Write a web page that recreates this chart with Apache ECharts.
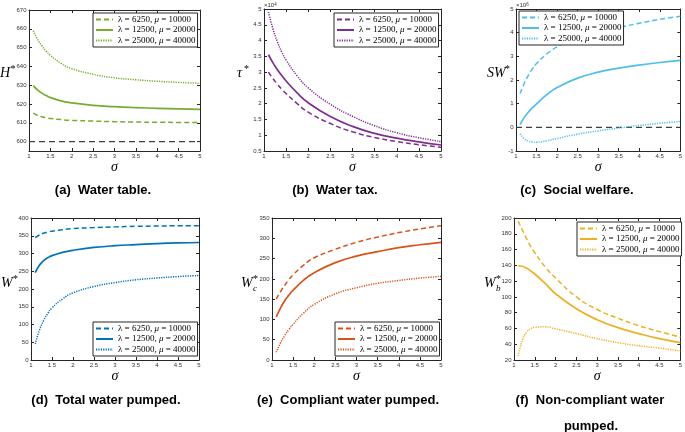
<!DOCTYPE html>
<html><head><meta charset="utf-8">
<script src="https://cdn.jsdelivr.net/npm/echarts@6/dist/echarts.min.js"></script>
<style>html,body{margin:0;padding:0;background:#fff}#c{width:685px;height:432px}</style>
</head><body><div id="c"></div>
<script>
// ---------- DATA ----------
const sigma = [1.1, 1.2, 1.3, 1.4, 1.5, 1.75, 2, 2.5, 3, 3.5, 4, 4.5, 5];
const legendLabels = ['λ = 6250, μ = 10000', 'λ = 12500, μ = 20000', 'λ = 25000, μ = 40000'];
const xTickLabels = [1, 1.5, 2, 2.5, 3, 3.5, 4, 4.5, 5];

// (a) Water table H*
const H_low  = [615.2, 614.0, 613.2, 612.7, 612.3, 611.7, 611.3, 610.9, 610.6, 610.4, 610.3, 610.2, 610.1];
const H_mid  = [629.8, 627.5, 625.8, 624.5, 623.4, 621.7, 620.6, 619.3, 618.6, 618.1, 617.7, 617.4, 617.1];
const H_high = [659.0, 654.5, 651.0, 648.2, 645.9, 641.6, 638.8, 635.8, 633.9, 632.9, 632.1, 631.5, 631.0];
const H_ref = 600;
const H_ticks = [600, 610, 620, 630, 640, 650, 660, 670];

// (b) Water tax tau* (x 10^4)
const tau_low  = [3.00, 2.80, 2.62, 2.46, 2.32, 2.00, 1.73, 1.37, 1.11, 0.93, 0.80, 0.70, 0.62];
const tau_mid  = [3.55, 3.30, 3.08, 2.89, 2.72, 2.34, 2.03, 1.59, 1.28, 1.06, 0.91, 0.79, 0.69];
const tau_high = [4.90, 4.38, 3.97, 3.64, 3.38, 2.88, 2.50, 1.98, 1.60, 1.30, 1.08, 0.92, 0.80];

// (c) Social welfare SW* (x 10^6)
const SW_low  = [1.43, 1.85, 2.20, 2.47, 2.70, 3.10, 3.40, 3.77, 4.01, 4.21, 4.40, 4.56, 4.69];
const SW_mid  = [0.12, 0.41, 0.64, 0.83, 0.99, 1.38, 1.68, 2.08, 2.33, 2.50, 2.63, 2.74, 2.83];
const SW_high = [-0.27, -0.48, -0.58, -0.62, -0.63, -0.57, -0.47, -0.29, -0.15, -0.03, 0.08, 0.17, 0.25];
const SW_ref = 0;

// (d) Total water pumped W*
const W_low  = [345, 352, 357, 360, 363, 367, 370, 373, 375, 376.5, 377.5, 378, 378.5];
const W_mid  = [246, 267, 280, 288, 294, 303, 309, 317, 322, 325, 328, 330, 331];
const W_high = [45, 84, 111, 131, 147, 172, 189, 207, 218, 226, 231, 235, 238];

// (e) Compliant water pumped Wc*
const Wc_low  = [150, 168, 184, 198, 210, 234, 252, 273, 290, 303, 314, 323, 331];
const Wc_mid  = [106, 128, 146, 160, 172, 197, 215, 240, 256, 267, 277, 284, 290];
const Wc_high = [19, 42, 60, 75, 88, 116, 137, 163, 178, 189, 196, 202, 206];

// (f) Non-compliant water pumped Wb*
const Wb_low  = [196, 185, 174, 164, 156, 138, 124, 100, 84, 73, 63.5, 56, 49];
const Wb_mid  = [139.5, 138.8, 136.5, 133, 129, 117, 104, 85, 71, 61, 53.5, 47, 42];
const Wb_high = [25, 45, 55, 59.5, 61.5, 62, 59.5, 53.5, 47, 42, 38, 35, 31.5];

// ---------- LAYOUT / STYLE ----------
const panels = [
  { key:'a', grid:{left:29, top:10, width:171, height:141}, color:'#77AC30',
    y:{min:595, max:670, interval:5, custom:H_ticks}, data:[H_low, H_mid, H_high], ref:H_ref, legend:{left:93, top:13} },
  { key:'b', grid:{left:264, top:9, width:177, height:142}, color:'#7E2F8E',
    y:{min:0.5, max:5, interval:0.5}, data:[tau_low, tau_mid, tau_high], legend:{left:334, top:13} },
  { key:'c', grid:{left:516, top:9, width:168, height:142}, color:'#4DBEEE',
    y:{min:-1, max:5, interval:1}, data:[SW_low, SW_mid, SW_high], ref:SW_ref, legend:{left:519, top:11} },
  { key:'d', grid:{left:31, top:218, width:168, height:142}, color:'#0072BD',
    y:{min:0, max:400, interval:50}, data:[W_low, W_mid, W_high], legend:{left:93, top:322} },
  { key:'e', grid:{left:272, top:218, width:169, height:142}, color:'#D95319',
    y:{min:0, max:350, interval:50}, data:[Wc_low, Wc_mid, Wc_high], legend:{left:335, top:322} },
  { key:'f', grid:{left:514, top:218, width:170, height:142}, color:'#EDB120',
    y:{min:20, max:200, interval:20}, data:[Wb_low, Wb_mid, Wb_high], legend:{left:577, top:222} }
];
const lineTypes = [[5, 3], 'solid', [1.2, 1.2]];
const lineWidths = [1.5, 1.7, 1.5];
const axisColor = '#262626';
const tickFont = {fontSize:6, color:'#333', fontFamily:'Liberation Sans'};

const grids = [], xAxes = [], yAxes = [], series = [], legends = [];
panels.forEach((p, i) => {
  grids.push(Object.assign({show:false}, p.grid));
  const xBase = {gridIndex:i, type:'value', min:1, max:5, interval:0.5,
    axisLine:{show:true, onZero:false, lineStyle:{color:axisColor, width:1}},
    axisTick:{show:true, inside:true, length:3, lineStyle:{color:axisColor}},
    splitLine:{show:false}};
  xAxes.push(Object.assign({}, xBase, {position:'bottom',
    axisLabel:Object.assign({margin:2.5}, tickFont),
    name:'σ', nameLocation:'middle', nameGap:5,
    nameTextStyle:{fontFamily:'Liberation Serif', fontStyle:'italic', fontSize:14, color:'#000'}}));
  xAxes.push(Object.assign({}, xBase, {position:'top', axisLabel:{show:false}}));
  const yBase = {gridIndex:i, type:'value', min:p.y.min, max:p.y.max, interval:p.y.interval,
    axisLine:{show:true, onZero:false, lineStyle:{color:axisColor, width:1}},
    axisTick:{show:true, inside:true, length:3, lineStyle:{color:axisColor}},
    splitLine:{show:false}};
  if (p.y.custom) yBase.axisTick.customValues = p.y.custom;
  const yl = Object.assign({margin:2.5}, tickFont);
  if (p.y.custom) yl.customValues = p.y.custom;
  yAxes.push(Object.assign({}, yBase, {position:'left', axisLabel:yl}));
  yAxes.push(Object.assign({}, yBase, {position:'right', axisLabel:{show:false}}));
  const names = [];
  p.data.forEach((arr, k) => {
    const nm = p.key + k;
    names.push(nm);
    series.push({type:'line', name:nm, xAxisIndex:2*i, yAxisIndex:2*i,
      data: sigma.map((s, j) => [s, arr[j]]), showSymbol:false, symbol:'none',
      smooth:0.5, clip:true,
      lineStyle:{color:p.color, width:lineWidths[k], type:lineTypes[k]}, itemStyle:{color:p.color}, z:3});
  });
  if (p.ref !== undefined) {
    series.push({type:'line', name:p.key+'ref', xAxisIndex:2*i, yAxisIndex:2*i,
      data:[[1, p.ref], [5, p.ref]], showSymbol:false, symbol:'none',
      lineStyle:{color:'#404040', width:1.2, type:[6, 4]}, z:2});
  }
  legends.push({left:p.legend.left, top:p.legend.top, orient:'vertical', data:names,
    selectedMode:false, itemWidth:17, itemHeight:8, itemGap:1.5, padding:[2, 2, 2, 2],
    borderColor:'#262626', borderWidth:1, backgroundColor:'#fff',
    itemStyle:{opacity:0},
    textStyle:{fontFamily:'Liberation Serif', fontSize:9, color:'#000',
      rich:{t:{fontFamily:'Liberation Serif', fontSize:9, color:'#000'},
            i:{fontFamily:'Liberation Serif', fontSize:9, fontStyle:'italic', color:'#000'}}},
    formatter: nm => {
      const lab = legendLabels[+nm.slice(1)];
      const parts = lab.split('μ');
      return '{t|' + parts[0] + '}{i|μ}{t|' + parts[1] + '}';
    }});
});

// text elements: captions, axis names, exponents
const cap = (x, y, t) => ({type:'text', x, y, style:{text:t, fontFamily:'Liberation Sans', fontWeight:'bold', fontSize:13, fill:'#000', align:'center', verticalAlign:'middle'}});
const nm = (x, y, t) => ({type:'text', x, y, style:{text:t, fontFamily:'Liberation Serif', fontStyle:'italic', fontSize:14, fill:'#000', align:'left', verticalAlign:'middle'}});
const sup = (x, y, t) => ({type:'text', x, y, style:{text:t, fontFamily:'Liberation Serif', fontSize:10, fill:'#000', align:'left', verticalAlign:'middle'}});
const sub = (x, y, t) => ({type:'text', x, y, style:{text:t, fontFamily:'Liberation Serif', fontStyle:'italic', fontSize:9, fill:'#000', align:'left', verticalAlign:'middle'}});
const expo = (x, y, e) => ({type:'text', x, y, style:{text:'{a|×10}{b|' + e + '}', rich:{a:{fontSize:6, fontFamily:'Liberation Sans', fill:'#333'}, b:{fontSize:4.5, fontFamily:'Liberation Sans', fill:'#333', verticalAlign:'top'}}, align:'left', verticalAlign:'bottom'}});

const graphics = [
  cap(103, 190, '(a)  Water table.'),
  cap(335, 190, '(b)  Water tax.'),
  cap(577, 190, '(c)  Social welfare.'),
  cap(106, 400, '(d)  Total water pumped.'),
  cap(348, 400, '(e)  Compliant water pumped.'),
  cap(590, 400, '(f)  Non-compliant water'),
  cap(591, 426, 'pumped.'),
  nm(0, 73, 'H'), sup(10.5, 69, '*'),
  nm(237, 73, 'τ'), sup(244, 69, '*'),
  nm(487, 73, 'SW'), sup(505, 69, '*'),
  nm(1, 283, 'W'), sup(13, 279, '*'),
  nm(241, 283, 'W'), sup(253, 279, '*'), sub(253, 289, 'c'),
  nm(484, 283, 'W'), sup(496, 279, '*'), sub(496, 289, 'b'),
  expo(264, 8, '4'),
  expo(516, 8, '6')
];

const chart = echarts.init(document.getElementById('c'), null, {renderer:'canvas'});
chart.setOption({
  animation:false, backgroundColor:'#fff',
  grid:grids, xAxis:xAxes, yAxis:yAxes, series, legend:legends, graphic:graphics
});
</script></body></html>
